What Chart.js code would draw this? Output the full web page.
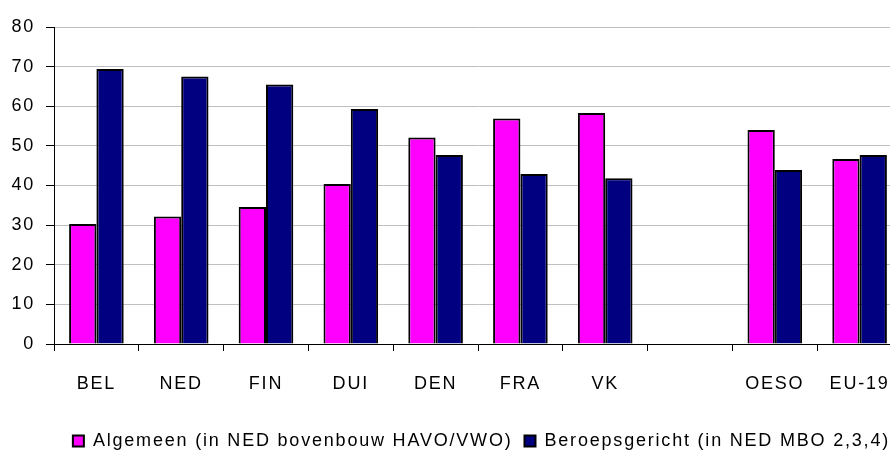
<!DOCTYPE html>
<html lang="nl">
<head>
    <meta charset="UTF-8">
    <title>Algemeen vs beroepsgericht</title>
    <script src="https://cdn.jsdelivr.net/npm/chart.js"></script>
    <style>
        body {
            margin: 0;
            background: #fff;
        }
        .wrap {
            width: 890px;
            height: 452px;
            overflow: hidden;
        }
        .box {
            width: 905px;
            height: 460px;
        }
    </style>
</head>
<body>
    <div class="wrap">
        <div class="box"><canvas id="chart"></canvas></div>
    </div>

    <script>
        const landen = ['BEL', 'NED', 'FIN', 'DUI', 'DEN', 'FRA', 'VK', '', 'OESO', 'EU-19'];
        const algemeen = [30.3, 32.2, 34.6, 40.4, 52.1, 56.9, 58.3, null, 54.0, 46.7];
        const beroeps = [69.4, 67.5, 65.5, 59.3, 47.7, 42.9, 41.8, null, 43.9, 47.7];
        const yTicks = [0, 10, 20, 30, 40, 50, 60, 70, 80];

        const labelAlgemeen = 'Algemeen (in NED bovenbouw HAVO/VWO)';
        const labelBeroeps = 'Beroepsgericht (in NED MBO 2,3,4)';

        // old Excel look: text a bit spaced out
        const spacing = {
            id: 'spacing',
            beforeUpdate(chart) { chart.ctx.letterSpacing = '1.8px'; },
            beforeLayout(chart) { chart.ctx.letterSpacing = '1.8px'; },
            beforeDraw(chart) { chart.ctx.letterSpacing = '1.8px'; }
        };

        Chart.defaults.font.family = "'Liberation Sans', Arial, sans-serif";
        Chart.defaults.font.size = 18;
        Chart.defaults.color = '#000';

        new Chart(document.getElementById('chart'), {
            type: 'bar',
            data: {
                labels: landen,
                datasets: [
                    {
                        label: labelAlgemeen,
                        data: algemeen,
                        backgroundColor: '#FF00FF',
                        borderColor: '#000',
                        borderWidth: 2
                    },
                    {
                        label: labelBeroeps,
                        data: beroeps,
                        backgroundColor: '#000080',
                        borderColor: '#000',
                        borderWidth: 2
                    }
                ]
            },
            options: {
                responsive: true,
                maintainAspectRatio: false,
                animation: false,
                categoryPercentage: 0.644,
                barPercentage: 1.0,
                layout: {
                    padding: { top: 27, right: 3, left: 0, bottom: 0 }
                },
                plugins: {
                    tooltip: { enabled: false },
                    legend: {
                        position: 'bottom',
                        align: 'end',
                        labels: {
                            boxWidth: 11,
                            boxHeight: 11,
                            padding: 12,
                            color: '#000'
                        }
                    }
                },
                scales: {
                    x: {
                        afterFit: (scale) => {
                            scale.height = 76;
                            scale.paddingLeft = 0;
                            scale.paddingRight = 0;
                        },
                        grid: {
                            drawOnChartArea: false,
                            tickLength: 7,
                            tickColor: '#000'
                        },
                        border: { color: '#000' },
                        ticks: { padding: 22, maxRotation: 0, autoSkip: false }
                    },
                    y: {
                        min: 0,
                        max: 80,
                        afterFit: (scale) => { scale.width = 54; },
                        afterBuildTicks: (scale) => {
                            scale.ticks = yTicks.map(v => ({ value: v }));
                        },
                        grid: {
                            color: '#c0c0c0',
                            tickColor: '#000',
                            tickLength: 8
                        },
                        border: { color: '#000' },
                        ticks: { padding: 11 }
                    }
                }
            },
            plugins: [spacing]
        });
    </script>
</body>
</html>
